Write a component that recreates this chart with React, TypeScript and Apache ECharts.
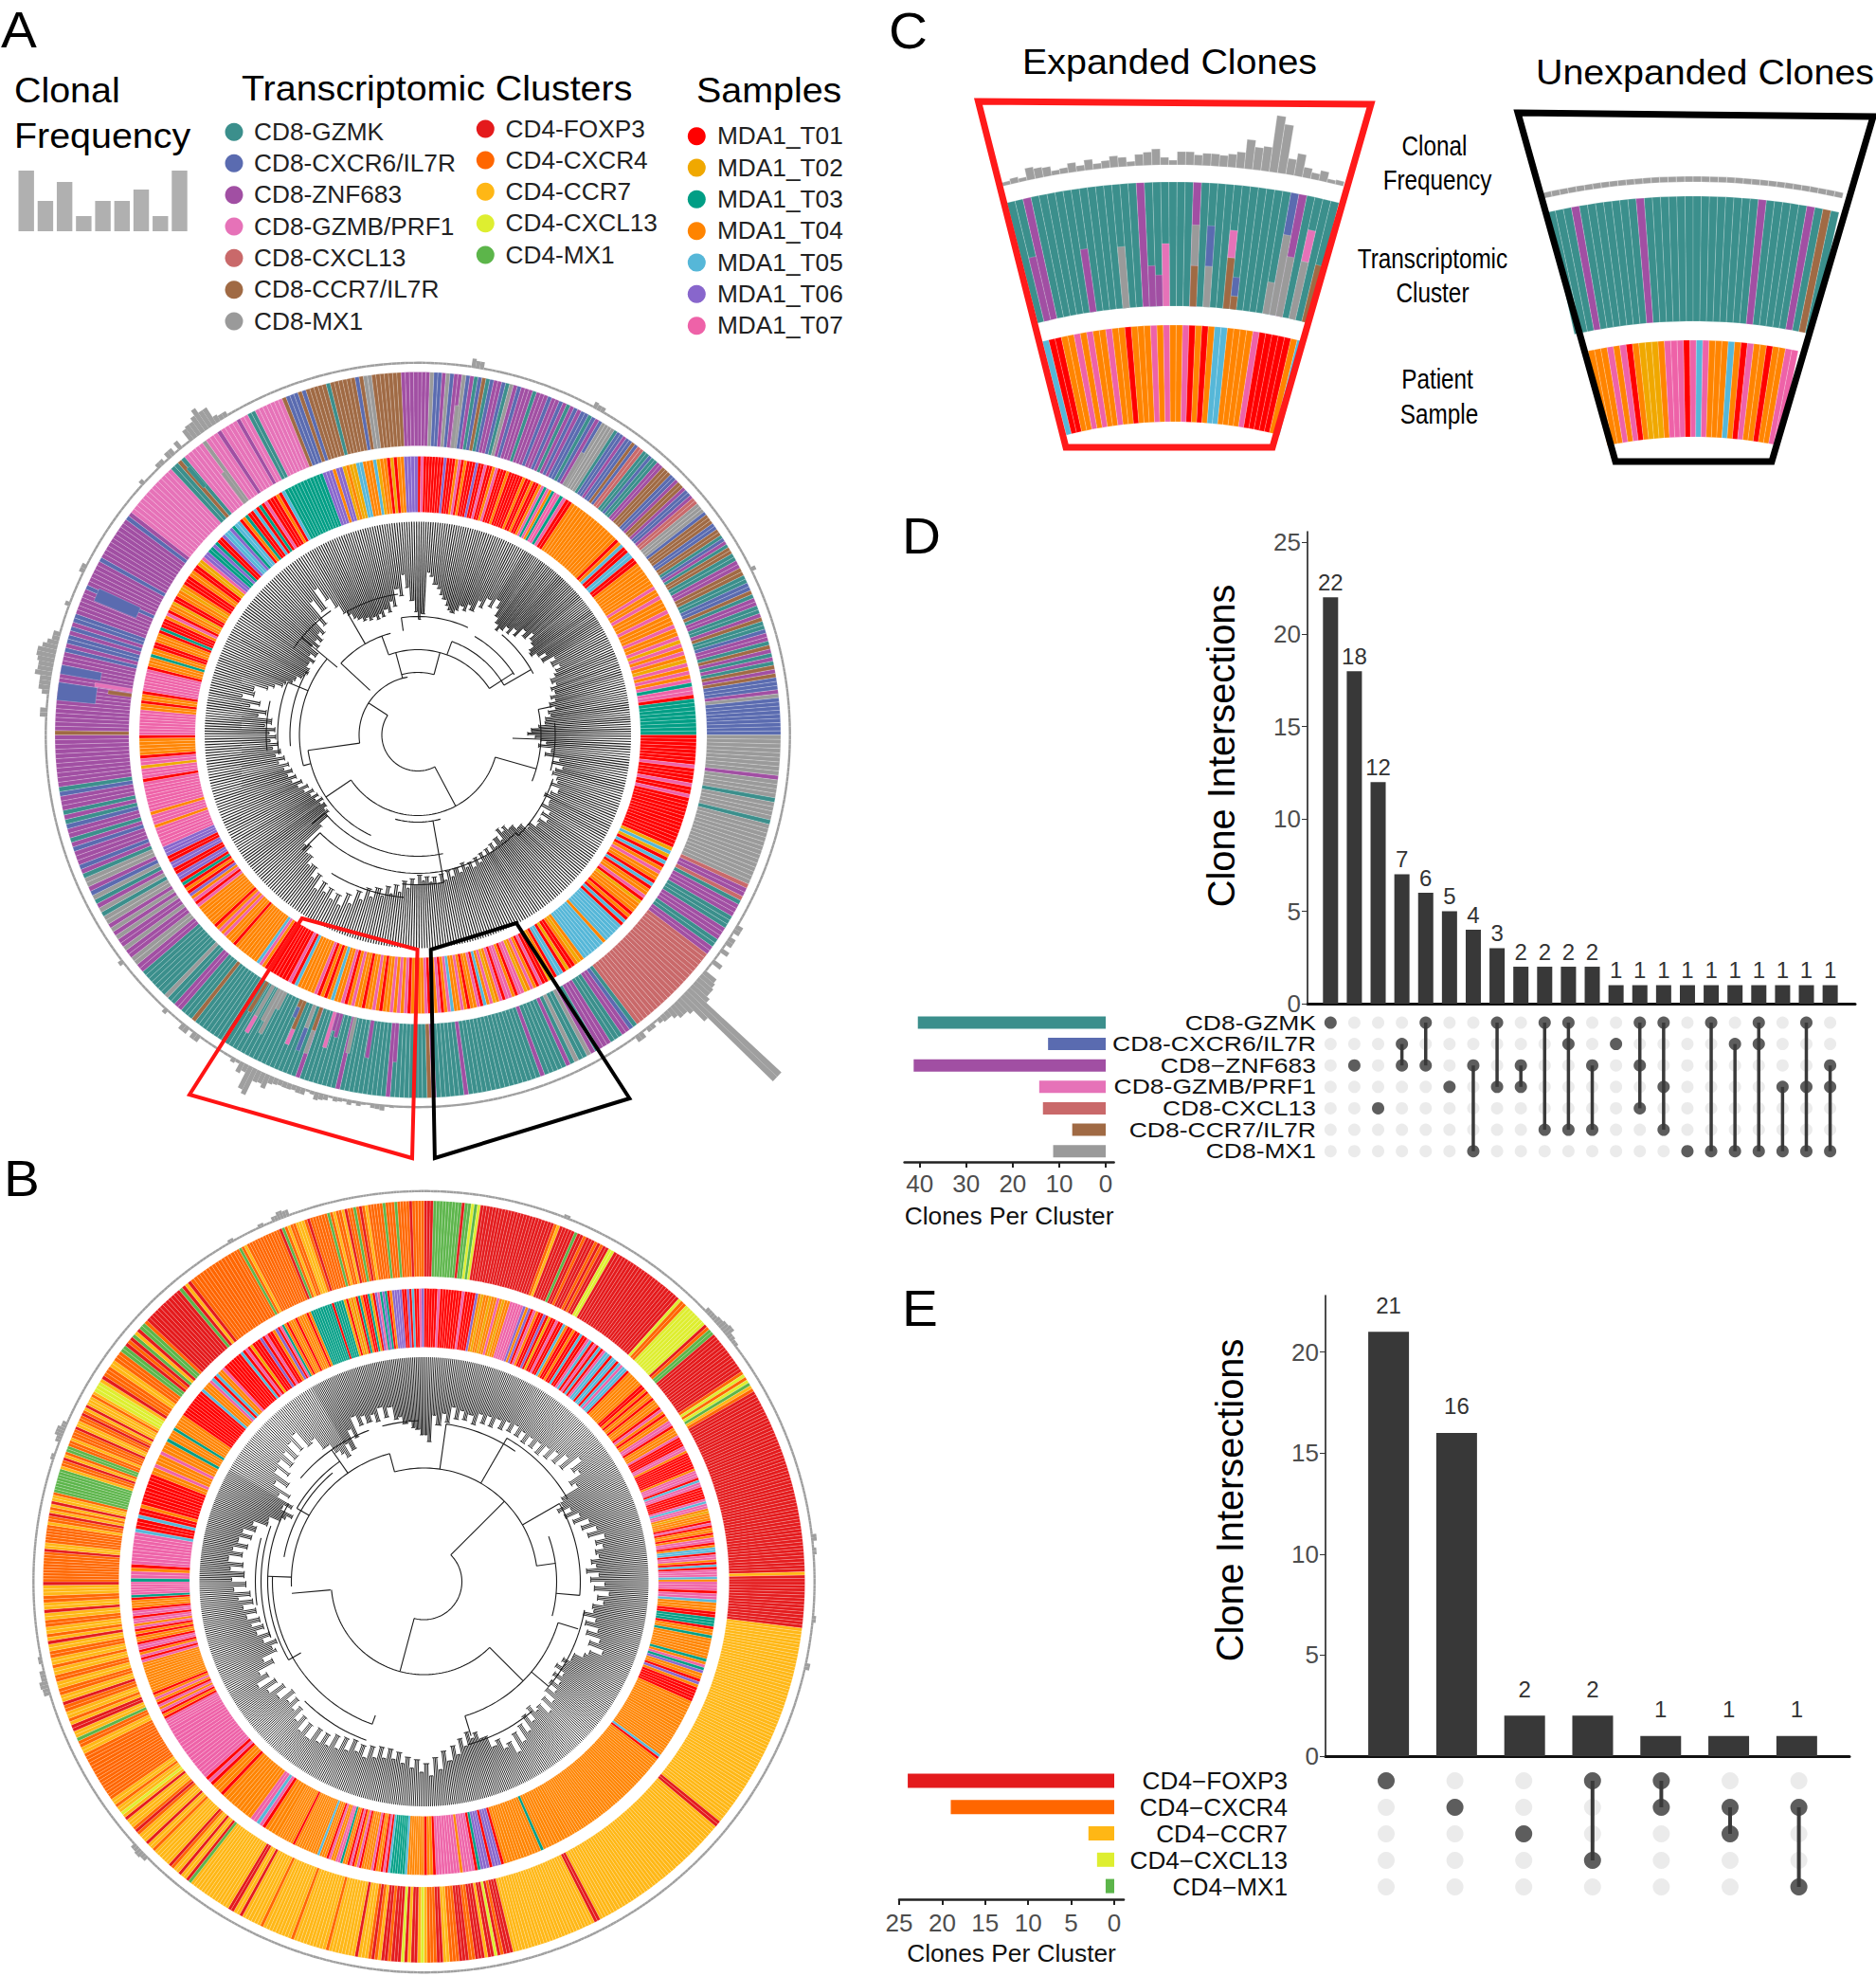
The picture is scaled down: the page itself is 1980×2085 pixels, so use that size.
import React, { useEffect, useRef } from "react";
import * as echarts from "echarts";

const FONT = "Liberation Sans";

/* ---------- palettes ---------- */
const cd8Names = ["CD8-GZMK", "CD8-CXCR6/IL7R", "CD8-ZNF683", "CD8-GZMB/PRF1", "CD8-CXCL13", "CD8-CCR7/IL7R", "CD8-MX1"];
const cd8RowNames = ["CD8-GZMK", "CD8-CXCR6/IL7R", "CD8\u2212ZNF683", "CD8-GZMB/PRF1", "CD8-CXCL13", "CD8-CCR7/IL7R", "CD8-MX1"];
const cd8Colors = ["#3b8f8c", "#5a6bb0", "#a14fa3", "#e672b8", "#c9696a", "#a06a44", "#9a9a9a"];
const cd8Codes = "KBZPLCM";
const cd4Names = ["CD4-FOXP3", "CD4-CXCR4", "CD4-CCR7", "CD4-CXCL13", "CD4-MX1"];
const cd4RowNames = ["CD4\u2212FOXP3", "CD4\u2212CXCR4", "CD4\u2212CCR7", "CD4\u2212CXCL13", "CD4\u2212MX1"];
const cd4Colors = ["#e41a1c", "#ff6600", "#ffb715", "#deee30", "#5cb54a"];
const cd4Codes = "FXRLM";
const sampleNames = ["MDA1_T01", "MDA1_T02", "MDA1_T03", "MDA1_T04", "MDA1_T05", "MDA1_T06", "MDA1_T07"];
const sampleColors = ["#ff0000", "#f0a800", "#009e85", "#ff8400", "#56b7d8", "#8866cc", "#ee62a8"];
const sampleCodes = "abcdefg";

/* ---------- panel A rings: one string per 30 degrees, clockwise from the top ---------- */
const ringAClusters = [
  "Z3 M1 B2 Z1 M1 B1 Z2 M1 B1 Z1 K1 B1 C1 K1 B1 Z2 B1 K1 M1 Z1 B1 Z3 K1 Z3 B1 Z2 B1 Z1 K1 Z1 B1 Z1 B2 K1 B1 Z1",
  "B1 M4 K1 B2 Z1 B2 C1 B1 L2 K2 B1 K2 Z2 C3 B2 Z1 C2 Z1 B2 Z1 L2 M3 B1 C3 B2 C2 K1 B1 Z1 K1 C2",
  "K2 Z2 C2 K2 B2 C1 K1 Z2 K2 Z1 C1 K2 B1 Z2 K1 C1 Z1 K1 Z1 K1 C1 Z1 C1 B3 Z1 M1 B9",
  "M9 Z1 M4 K1 M4 K1 M14 L1 Z2 L1 K1 Z3",
  "K3 Z3 K2 Z2 L22 K1 B1 Z2 K3 Z3",
  "K1 Z1 M1 K2 M1 K1 Z1 K5 Z1 K16 Z1 K6 Z1 C1 K2",
  "K6 Z1 K10 Z1 K8 Z1 K14",
  "K11 C1 K3 Z2 K2 M1 K7 Z2 M2 Z2 M1 Z2 M1 Z1 M1 Z1 M2",
  "K1 M1 Z1 K1 M1 B1 Z1 M2 K1 Z1 B1 Z3 B1 Z1 K1 Z2 B1 K1 Z1 K1 Z3 B1 K1 Z11",
  "C1 Z18 B1 Z1 B2 Z1 B1 Z1 B2 Z6 B1 Z6 B1 Z1",
  "Z9 B1 Z1 P13 K2 C1 K1 P5 M1 P3 Z1 P4",
  "Z1 P2 K2 P7 C1 B3 C1 B1 C5 K1 C6 B1 C1 M2 C7 Z4",
];
const ringASamples = [
  "a1 g1 a7 f1 a3 d1 g1 a1 d1 a3 f1 a2 g1 a2 d1 g1 a3 d1 a5 d1 a2 d1 a2 d1 g1 c1 g1 d1 c1 g1",
  "g1 c1 g1 a2 d16 a1 d1 e1 a2 e2 a2 d8 g1 d2",
  "g1 d3 g1 d3 g1 d2 g1 b1 g1 d1 g1 d1 b1 g1 d1 g1 d1 g1 c1 g2 a1 c9",
  "a8 g1 a4 g1 a2 g1 a14 b1 e1 b1 a1 e1 a1 d1 g1",
  "d2 a1 e1 a1 d2 g1 a1 b1 d3 a1 d1 a1 e1 a1 e6 d1 e7 d1 b1 d1 a2 b1 a1 e2",
  "a1 d1 b1 a2 g1 a1 d1 g1 d1 b1 g2 a1 d1 g2 a1 g1 d1 b1 g1 d1 e1 a1 g1 d2 a1 d1 g1 d2 e1 g1 d1 a1 g1 d2 a1 g1 d2",
  "a1 d1 a1 g1 d1 g1 d1 g1 d2 a1 d1 g1 d2 a1 d2 g1 d1 a1 g1 d2 e1 d1 a1 d1 a1 g1 d5 e1 a1 g1 a3",
  "a5 d1 g1 e1 d8 a1 d3 g1 d1 g1 d1 a1 d7 g1 a1 g1 d1 f1 a1 d1 a1 c1 a1 f2",
  "a2 f2 a2 f3 g6 d1 g3 d1 g9 a1 g3 b1 g2 a1 d5 a1",
  "g8 d2 a1 d2 a1 g7 a1 d3 c1 d2 a2 d3 a1 c1 a3 d1 g1 a1 d2 b1 a2",
  "d2 b1 d1 a3 d2 a2 b2 g1 f2 c2 f1 c1 a2 f1 e2 f1 c1 e2 a1 d1 c1 a2 e1 a1 c1 a1 g1 a3 d1",
  "a1 e1 c12 f3 d1 f2 b1 d1 b2 e2 d3 e1 b1 d2 a1 b1 a1 d2 f4",
];
/* tip radius of the leaves, every 1.5 degrees */
const tipsA = [
  122,128,172,168,160,156,150,146,140,136,134,138,144,140,148,143,156,150,162,155,166,158,150,144,138,142,148,143,152,146,158,152,162,156,154,148,146,152,160,153,166,160,167,161,158,152,156,149,152,146,150,143,148,140,142,136,135,128,120,116,
  124,130,136,128,142,136,152,145,157,150,148,154,156,150,160,153,148,156,157,150,162,155,164,156,158,150,152,144,144,138,138,132,136,130,142,136,144,138,146,140,147,141,150,143,152,145,149,143,152,146,154,147,156,149,158,151,156,150,154,148,
  158,152,162,155,167,160,170,163,174,167,178,170,184,176,192,183,198,188,196,186,193,184,195,180,187,176,179,170,171,163,166,140,128,124,126,122,126,121,128,123,130,125,134,128,138,132,142,136,144,138,146,140,150,143,152,146,154,148,156,150,
  157,151,162,155,170,162,180,170,190,178,180,166,160,152,150,144,142,137,136,133,134,138,138,134,142,136,146,140,147,142,150,146,162,152,180,165,188,172,160,150,146,140,137,133,135,131,133,129,134,130,137,133,144,138,156,148,170,156,142,130,
];
const arcsA = [
  [38, 152, 303], [62, 262, 350], [66, 345, 375], [90, 340, 417], [111, 313, 345], [117, 205, 262], [85, 106, 236], [92, 165, 195], [128, 168, 230], [146, 135, 225], [172, 185, 212],
  [148, 262, 292], [135, 265, 300], [125, 255, 310], [160, 264, 283], [105, 380, 420], [125, 352, 385], [138, 400, 422], [120, 390, 418], [130, 78, 112], [145, 85, 105], [150, 108, 135], [160, 305, 325], [150, 330, 352], [158, 170, 186],
];
const linksA = [
  [152, 38, 85], [303, 38, 62], [262, 62, 117], [345, 62, 90], [15, 66, 90], [313, 69, 111], [340, 90, 111], [236, 85, 117], [57, 90, 120], [106, 85, 130], [170, 92, 128], [230, 128, 146], [135, 146, 150], [225, 146, 172], [292, 125, 148], [20, 90, 105], [60, 105, 138], [352, 111, 125], [92, 100, 130], [78, 130, 145], [255, 117, 125], [310, 111, 160], [170, 128, 158], [330, 111, 150],
];
const peaksA = [
  [8, 2.5], [9, 2], [28, 1.8], [29, 1.5], [63, 1.6], [121, 2], [123, 2], [125, 2.5], [127, 3], [129, 4], [130, 4.5], [131, 5], [132, 6], [133, 33], [134, 9], [135, 5], [136, 4], [137, 3], [138, 2], [139, 1.5], [141, 1.5], [143, 2],
  [216, 2], [218, 2], [222, 1.5], [232, 1.5], [273, 2], [276, 2], [277, 3], [278, 3], [279, 4.5], [280, 4], [281, 4.5], [282, 5], [283, 4], [284, 3], [285, 2], [290, 1.5], [296, 1.5],
  [312, 1.5], [316, 1.5], [318, 2], [320, 2.5], [322, 3.5], [323, 4], [324, 5], [325, 6.5], [326, 5], [327, 2], [328, 1.5],
];
/* [degree, tiles, inner radius, outer radius, code] */
const layersA: [number, number, number, number, string][] = [
  [275.5, 4, 342, 383, "B"], [279.7, 2, 340, 383, "B"], [278.5, 1, 305, 345, "P"], [277.5, 1, 305, 330, "C"], [292.5, 3, 322, 370, "B"], [323, 1, 305, 345, "M"], [30, 1, 305, 345, "M"], [6.5, 1, 305, 350, "M"], [319, 1, 345, 372, "K"],
];

/* ---------- panel B rings ---------- */
const ringBClusters = [
  "F3 M9 F1 M2 L1 M1 L1 F24 X1 R1 F5 M1 F2 X1 F3 X1 F1 X1 F2 L2",
  "F24 L1 X2 L8 F1 X1 M2 F14 X1 L1 X1 L1 M1 R1 X1",
  "F57 R1 F2",
  "F14 R46",
  "R18 F2 R40",
  "R5 F2 R27 F3 X1 F1 L1 F2 R1 F3 X2 F3 X3 R2 F2 X3 R1",
  "L1 R1 F2 R1 F1 L1 F3 X1 F2 R1 X1 F1 X1 R3 F1 R8 X1 R10 X1 R9 X1 R6 F1 R2",
  "F2 R14 M1 F1 R2 F1 R2 X1 F1 R6 X1 R2 F1 R3 X1 F1 X1 R3 F1 R1 L1 R2 X1 R2 X10",
  "X6 R2 X2 M1 R2 F2 R1 X1 R2 X2 F1 R2 X2 R2 X2 R2 X1 R2 X2 R2 F1 R1 X1 R2 X2 R2 F1 R2 X2 R3 F1",
  "X10 F1 R2 X6 R1 X2 F1 R1 X1 R1 F1 R2 X1 M8 R1 X2 F1 R1 X1 M2 X2 R1 X3 F1 R2 X2 F1 X1 R1 F1 R3 X1 R1",
  "L3 R1 F1 X3 R2 X3 M2 F1 X1 F1 M1 R1 F1 M2 X1 F12 M1 F1 R1 F1 X14",
  "X2 M1 X1 R1 X12 F1 M1 X1 R1 X2 R3 X1 F1 X6 M1 X1 R1 X2 R1 F1 X2 M1 X1 F1 X1 R1 X5 M1 X3 M1 X4 F1 X4",
];
const ringBSamples = [
  "a5 g1 a8 g1 a4 f1 d1 b1 d2 b1 d2 g1 d1 b1 d2 g5 f1 d1 f1 a1 g1 d1 a2 f1 a1 b1 a2 g1 a2 e1 d1 a1",
  "a1 d1 a2 e1 a2 g1 e1 a1 g1 a1 e1 a1 g1 e2 a1 e2 a1 e1 g1 e2 a1 d6 a2 d1 a1 d2 a1 d3 a1 g1 d1 a1 d2 g2 a1 d3",
  "g1 a4 g2 d1 a7 d1 g3 a1 e1 g2 a5 g1 e1 g2 d1 b1 d3 a1 g1 a1 d2 a1 d1 g2 a1 d1 e2 a1 g2 d1 a1 e1 a1 g3 e1 d1",
  "g3 a1 g2 e1 d3 a2 c3 a1 d2 c1 d7 c1 d1 g1 c1 f1 d2 a1 f1 d1 a5 d10",
  "d12 e1 a1 d44",
  "d10 c1 d13 a1 f3 a1 f3 c1 a1 g4 d1 g8 a1 d2 a1",
  "d7 e1 c5 c1 e1 a1 g1 a1 d2 a1 g1 d4 a1 g1 d1 a1 g1 a1 d2 c1 g2 d2 g1 a1 d3 e1 d10 a1 d7",
  "d4 a1 g1 e1 g2 d10 a1 d3 a1 g1 a1 g17",
  "g4 a1 d1 a1 g1 d1 g1 a1 d1 g1 d1 a1 d12 g1 a1 g1 d1 a1 g2 a1 d2 a1 d1 a1 g1 d1 g2 a1 g2 a1 d3 a1 c1 g5",
  "c1 g2 d1 a1 g9 e1 a3 e1 a2 d1 a9 d2 g1 d3 g1 d3 c1 d1",
  "d2 c1 d5 a10 e1 d3 g1 e1 a1 e1 d2 g1 a7 e1 a1 g1 a1 b1 a3 f1 a1 g1 a2 d1 f1",
  "a1 g1 c1 d1 a1 d3 a1 d4 a1 d1 c9 a1 c4 b1 a1 b1 d1 b1 a1 c1 d1 a2 c1 b1 a1 f1 g1 c1 f1 c1 a1 d1 f4 a2 f1 a1 e1 a2 g1 f1",
];
const tipsB = [
  155,148,176,166,179,170,187,175,185,176,183,174,187,178,188,178,189,180,191,182,192,182,190,180,190,181,191,180,193,183,196,186,201,188,210,196,201,186,191,170,167,160,173,164,179,170,186,176,191,180,197,186,193,184,187,178,183,172,185,176,
  191,180,196,184,191,180,182,172,186,176,191,180,196,186,203,190,186,176,176,168,173,165,177,168,179,170,181,172,186,176,191,178,181,172,187,176,193,182,199,186,206,192,196,184,189,176,176,168,173,165,179,170,186,176,191,180,199,186,205,192,
  201,188,197,186,193,182,190,180,191,180,193,182,196,184,193,182,196,184,199,186,201,190,203,190,206,192,205,190,199,186,193,182,191,180,196,184,201,188,207,192,199,180,189,172,175,168,181,172,185,176,188,178,191,180,193,182,197,184,201,188,
  203,190,205,192,208,194,205,190,201,188,199,186,191,176,177,165,161,155,169,160,179,168,189,176,196,182,199,186,201,188,204,190,208,188,191,176,176,165,160,154,167,158,179,168,190,178,187,178,185,176,190,178,188,174,176,168,171,163,161,155,
];
const arcsB = [
  [40, 45, 195], [98, 135, 265], [148, 107, 163], [140, 268, 345], [120, 345, 442], [140, 70, 105], [160, 200, 272], [165, 240, 300], [172, 250, 290], [178, 262, 285], [155, 300, 325], [150, 280, 320],
  [165, 60, 95], [172, 100, 130], [175, 30, 60], [168, 8, 35], [178, 140, 165], [170, 310, 340], [178, 200, 225], [170, 345, 358],
];
const linksB = [
  [45, 40, 120], [195, 40, 98], [265, 99, 140], [135, 98, 148], [163, 148, 170], [107, 148, 170], [200, 150, 160], [272, 140, 165], [300, 140, 155], [325, 140, 170], [345, 120, 140], [82, 120, 140], [8, 120, 168], [60, 120, 165], [95, 140, 165], [130, 148, 172], [30, 120, 175], [240, 150, 165],
];
const peaksB = [
  [21, 1.5], [46, 2], [47, 2], [48, 2.5], [49, 3], [50, 3.5], [51, 2], [52, 1.5], [83, 2], [85, 1.5], [95, 1.5], [102, 2], [225, 2], [226, 2.5], [227, 2], [253, 2.5], [254, 3], [255, 2], [256, 2], [258, 1.5], [288, 1.5], [291, 2], [292, 3], [293, 2], [330, 1.5], [335, 1.5], [337, 2], [338, 3], [339, 2.5],
];

/* ---------- panel C ---------- */
const expandedClusters = "K2 Z1 K13 Z1 K6 Z1 K11 B1 Z1 K4";
const expandedSamples = "e1 a2 d2 g1 d1 g1 d2 g1 d2 a1 d3 g1 d1 g1 d2 g1 a1 d1 a1 d1 e2 d4 g1 a5 d1 e1";
const expandedFrequency = [4, 6, 4, 13, 11, 10, 5, 6, 10, 6, 11, 6, 8, 12, 10, 5, 12, 14, 17, 8, 5, 14, 14, 11, 13, 13, 12, 14, 17, 31, 24, 26, 60, 52, 17, 24, 11, 7, 11, 4, 5];
/* [tile, inner radius, outer radius, code] */
const expandedLayers: [number, number, number, string][] = [
  [1, 576, 645, "Z"], [8, 576, 643, "Z"], [13, 576, 641, "M"], [17, 576, 619, "Z"], [18, 576, 609, "Z"], [19, 576, 642, "P"],
  [23, 619, 662, "M"], [23, 576, 619, "C"], [25, 619, 662, "B"], [25, 576, 619, "M"], [28, 630, 659, "P"], [28, 576, 630, "C"], [29, 590, 610, "B"], [29, 576, 590, "C"],
  [35, 576, 662, "M"], [36, 576, 640, "M"], [34, 576, 610, "M"], [38, 638, 672, "P"], [38, 576, 638, "M"], [40, 576, 638, "C"],
];
const unexpandedClusters = "K3 Z1 K7 Z1 K14 Z1 K5 Z1 K1 C1 K1";
const unexpandedSamples = "d3 g1 d1 g1 a1 d1 b3 d1 g3 a1 g1 e1 g1 d3 e1 d1 a1 g1 d2 a1 d2 g2";
const unexpandedFrequency = [1, 1, 1, 1, 1, 1, 1, 1, 1, 1, 1, 1, 1, 1, 1, 1, 1, 1, 1, 1, 1, 1, 1, 1, 1, 1, 1, 1, 1, 1, 1, 1, 1, 1, 1, 1];

/* ---------- panel D, E ---------- */
const legendBars = [4, 2, 3.25, 1, 2, 2, 2.75, 1, 4];
const dIntersections = [22, 18, 12, 7, 6, 5, 4, 3, 2, 2, 2, 2, 1, 1, 1, 1, 1, 1, 1, 1, 1, 1];
const dClones = [40.4, 12.4, 41.3, 14.3, 13.5, 7.2, 11.3];
const dSets = [[0], [2], [4], [1, 2], [0, 2], [3], [2, 6], [0, 3], [2, 3], [0, 5], [0, 1, 5], [2, 5], [1], [0, 2, 4], [0, 3, 5], [6], [0, 6], [1, 6], [0, 1, 6], [3, 6], [0, 3, 6], [2, 3, 6]];
const eIntersections = [21, 16, 2, 2, 1, 1, 1];
const eClones = [24, 19, 3, 2, 1];
const eSets = [[0], [1], [2], [0, 3], [0, 1], [1, 2], [1, 4]];

/* ---------- helpers ---------- */
function tokens(s: string): [string, number][] {
  const out: [string, number][] = [];
  s.replace(/([A-Za-z])(\d+)/g, (_m, c, n) => { out.push([c, +n]); return ""; });
  return out;
}
// data rows: [r0, a0, r1, a1, colorIndex]
function ringTiles(blocks: string[], codes: string, r0: number, r1: number) {
  const rows: number[][] = [];
  blocks.forEach((b, i) => {
    const t = tokens(b);
    const total = t.reduce((s, x) => s + x[1], 0);
    const w = 30 / total;
    let a = i * 30;
    t.forEach(([c, n]) => {
      for (let k = 0; k < n; k++) { rows.push([r0, a, r1, a + w, codes.indexOf(c)]); a += w; }
    });
  });
  return rows;
}
function wedgeTiles(s: string, codes: string, r0: number, r1: number, step: number, offset = 0) {
  const rows: number[][] = [];
  let i = offset;
  tokens(s).forEach(([c, n]) => { for (let k = 0; k < n; k++) { rows.push([r0, i * step, r1, (i + 1) * step, codes.indexOf(c)]); i++; } });
  return rows;
}
function tileSeries(polarIndex: number, data: number[][], colors: string[], stroke: string | null = "rgba(255,255,255,0.38)", z = 2) {
  return {
    type: "custom", coordinateSystem: "polar", polarIndex, silent: true, z, progressive: 0, animation: false, clip: false,
    data,
    renderItem: (_p: any, api: any) => {
      const r0 = api.value(0), a0 = api.value(1), r1 = api.value(2), a1 = api.value(3);
      const pts = [api.coord([r0, a0]), api.coord([r1, a0]), api.coord([r1, a1]), api.coord([r0, a1])];
      return { type: "polygon", shape: { points: pts }, style: stroke ? { fill: colors[api.value(4)], stroke, lineWidth: 0.5 } : { fill: colors[api.value(4)] } };
    },
  };
}
// data rows: [r, a0, a1]
function arcSeries(polarIndex: number, data: number[][], lineWidth: number) {
  return {
    type: "custom", coordinateSystem: "polar", polarIndex, silent: true, z: 3, progressive: 0, clip: false,
    data,
    renderItem: (_p: any, api: any) => {
      const r = api.value(0), a0 = api.value(1), a1 = api.value(2);
      const pts: number[][] = [];
      for (let a = a0; a < a1; a += 2) pts.push(api.coord([r, a]));
      pts.push(api.coord([r, a1]));
      return { type: "polyline", shape: { points: pts }, style: { stroke: "#1c1c1c", lineWidth, fill: "none" } };
    },
  };
}
// data rows: [r0, a, r1]
function radialSeries(polarIndex: number, data: number[][], lineWidth: number, stroke = "#1c1c1c") {
  return {
    type: "custom", coordinateSystem: "polar", polarIndex, silent: true, z: 3, progressive: 0, clip: false,
    data,
    renderItem: (_p: any, api: any) => {
      const a = api.value(1);
      const p0 = api.coord([api.value(0), a]);
      const p1 = api.coord([api.value(2), a]);
      return { type: "line", shape: { x1: p0[0], y1: p0[1], x2: p1[0], y2: p1[1] }, style: { stroke, lineWidth } };
    },
  };
}
function frequencyRows(outer: number[][], base: number, unit: number, floor: number, peaks: number[][], extra: (a: number) => number = () => 0) {
  const m = new Map(peaks.map((p) => [p[0], p[1]]));
  return outer.map((t) => {
    const mid = (t[1] + t[3]) / 2;
    const v = Math.max(floor, m.get(Math.floor(mid)) || 0, extra(mid));
    return [base, t[1], base + v * unit, t[3], 0];
  });
}
function circleSeries(i: number, clusterBlocks: string[], clusterCodes: string, clusterColors: string[], sampleBlocks: string[], geo: any, tips: number[], arcs: number[][], links: number[][], peaks: number[][], unit: number, extra?: (a: number) => number, layers: any[] = []) {
  const outer = ringTiles(clusterBlocks, clusterCodes, geo.oi, geo.oo);
  const middle = ringTiles(sampleBlocks, sampleCodes, geo.mi, geo.mo);
  const leafTip = (a: number) => tips[Math.floor((((a % 360) + 360) % 360) / 1.5)];
  const leaves = outer.map((t) => { const a = (t[1] + t[3]) / 2; return [leafTip(a), a, geo.d]; });
  const steps: number[][] = [];
  leaves.forEach((l, k) => {
    if (k < leaves.length - 1) { const n = leaves[k + 1]; steps.push([Math.min(l[0], n[0]), l[1], n[1]]); }
  });
  const layerRows = layers.map((l) => [l[2], l[0], l[3], l[0] + l[1] * 0.72, clusterCodes.indexOf(l[4])]);
  return [
    tileSeries(i, outer, clusterColors),
    tileSeries(i, layerRows, clusterColors, "rgba(255,255,255,0.38)", 3),
    tileSeries(i, middle, sampleColors),
    tileSeries(i, frequencyRows(outer, geo.f, unit, geo.floor, peaks, extra), ["#9f9f9f"], null),
    radialSeries(i, leaves, geo.lw, "#1e1e1e"),
    arcSeries(i, steps, 0.9),
    arcSeries(i, arcs, 1.1),
    radialSeries(i, links.map((l) => [l[1], l[0], l[2]]), 1.1),
  ];
}
const polarOf = (center: number[], radius: number) => ({ center, radius });
const angleOf = (polarIndex: number, startAngle: number) => ({ polarIndex, type: "value", min: 0, max: 360, startAngle, show: false });
const radiusOf = (polarIndex: number, max: number) => ({ polarIndex, type: "value", min: 0, max, show: false });

const txt = (text: string, x: number, y: number, size: number, o: any = {}) => ({
  type: "text", x, y, z: 100, rotation: o.rotation || 0, scaleX: o.sx || 1, silent: true,
  style: {
    text, x: 0, y: 0, fill: o.fill || "#000", font: `${size}px "${FONT}"`, fontSize: size, fontFamily: FONT,
    textAlign: o.align || "left", align: o.align || "left", textVerticalAlign: "middle", verticalAlign: "middle",
  },
});
const title = (text: string, x: number, y: number) => txt(text, x, y, 37, { sx: 1.065 });
const letter = (text: string, x: number, y: number) => txt(text, x, y, 54, { sx: 1.05 });
const legendText = (text: string, x: number, y: number) => txt(text, x, y, 25, { sx: 1.05, fill: "#222" });
const dot = (x: number, y: number, r: number, fill: string) => ({ type: "circle", z: 100, silent: true, shape: { cx: x, cy: y, r }, style: { fill } });
const frame = (pts: number[][], stroke: string, lineWidth: number) => ({ type: "polygon", z: 100, silent: true, shape: { points: pts }, style: { fill: "none", stroke, lineWidth, lineJoin: "miter" } });

function upset(gridStart: number, cfg: any) {
  const { sets, inter, clones, names, colors, top, left, matrix, dotSize, linkW, barW, labelDist, labelSize, leftTicks, leftMin, leftMax, topTicks } = cfg;
  const rows = names.length, cols = inter.length;
  const grids = [
    { left: top.left, top: top.top, width: top.width, height: top.height },
    { left: left.left, top: left.top, width: left.width, height: left.height },
    { left: matrix.left, top: matrix.top, width: matrix.width, height: matrix.height },
  ];
  const tickStyle = { color: "#4d4d4d", fontSize: cfg.tickSize, fontFamily: FONT };
  const xAxes = [
    { gridIndex: gridStart, type: "value", min: top.min, max: top.max, axisLabel: { show: false }, axisTick: { show: false }, splitLine: { show: false }, axisLine: { show: true, onZero: false, lineStyle: { color: "#111", width: 3 } } },
    {
      gridIndex: gridStart + 1, type: "value", inverse: true, min: leftMin, max: leftMax, splitLine: { show: false },
      axisLine: { show: true, onZero: false, lineStyle: { color: "#222", width: 2.5 } },
      axisTick: { show: true, customValues: leftTicks, length: 6, lineStyle: { color: "#222", width: 2 } },
      axisLabel: { show: true, customValues: leftTicks, margin: cfg.leftMargin, hideOverlap: false, showMinLabel: true, showMaxLabel: true, ...tickStyle },
      name: "Clones Per Cluster", nameLocation: "middle", nameGap: 44, nameTextStyle: { color: "#111", fontSize: 26.3, fontFamily: FONT },
    },
    { gridIndex: gridStart + 2, type: "value", min: -0.5, max: cols - 0.5, show: false },
  ];
  const yAxes = [
    {
      gridIndex: gridStart, type: "value", min: 0, max: top.yMax, splitLine: { show: false },
      axisLine: { show: true, onZero: false, lineStyle: { color: "#111", width: 1.5 } },
      axisTick: { show: true, customValues: topTicks, length: 6, lineStyle: { color: "#333" } },
      axisLabel: { margin: 7, customValues: topTicks, ...tickStyle },
    },
    { gridIndex: gridStart + 1, type: "category", inverse: true, data: names, show: false },
    { gridIndex: gridStart + 2, type: "category", inverse: true, data: names, show: false },
  ];
  const bg: number[][] = [];
  const fg: number[][] = [];
  const links: number[][] = [];
  for (let c = 0; c < cols; c++) {
    for (let r = 0; r < rows; r++) bg.push([c, r]);
    sets[c].forEach((r: number) => fg.push([c, r]));
    if (sets[c].length > 1) links.push([c, Math.min(...sets[c]), Math.max(...sets[c])]);
  }
  const series = [
    {
      type: "bar", xAxisIndex: gridStart, yAxisIndex: gridStart, barWidth: barW, silent: true,
      data: inter.map((v: number, i: number) => [i, v]), itemStyle: { color: "#383838" },
      label: { show: true, position: "top", distance: labelDist, color: "#333", fontSize: labelSize, fontFamily: FONT, formatter: (p: any) => String(p.value[1]) },
    },
    {
      type: "bar", xAxisIndex: gridStart + 1, yAxisIndex: gridStart + 1, barWidth: cfg.leftBarH, silent: true,
      data: clones.map((v: number, i: number) => ({ value: v, itemStyle: { color: colors[i] } })),
    },
    { type: "scatter", xAxisIndex: gridStart + 2, yAxisIndex: gridStart + 2, symbol: "circle", symbolSize: dotSize, silent: true, z: 2, data: bg, itemStyle: { color: "#e6e6e6" } },
    {
      type: "custom", xAxisIndex: gridStart + 2, yAxisIndex: gridStart + 2, coordinateSystem: "cartesian2d", silent: true, z: 3, data: links,
      renderItem: (_p: any, api: any) => {
        const a = api.coord([api.value(0), api.value(1)]);
        const b = api.coord([api.value(0), api.value(2)]);
        return { type: "line", shape: { x1: a[0], y1: a[1], x2: b[0], y2: b[1] }, style: { stroke: "#3a3a3a", lineWidth: linkW } };
      },
      encode: { x: 0, y: [1, 2] },
    },
    { type: "scatter", xAxisIndex: gridStart + 2, yAxisIndex: gridStart + 2, symbol: "circle", symbolSize: dotSize, silent: true, z: 4, data: fg, itemStyle: { color: "#3a3a3a" } },
  ];
  return { grids, xAxes, yAxes, series };
}

function buildOption() {
  const geoA = { d: 225, mi: 235, mo: 294, oi: 305, oo: 383, f: 391.5, lw: 1.15, floor: 0.6 };
  const geoB = { d: 237, mi: 247.4, mo: 309.4, oi: 322, oo: 402, f: 411, lw: 0.95, floor: 0.8 };
  const expandedStep = 0.7;
  const expandedStart = 90 + 14.35;
  const unexpandedStart = 90 + 12.6;

  // panel A's red wedge shows the same clones as panel C
  const wedgeOrigin = 183;
  const extraA = (a: number) => {
    const i = Math.floor((a - wedgeOrigin) / expandedStep);
    return i >= 0 && i < expandedFrequency.length ? expandedFrequency[i] / 8 : 0;
  };
  const wedgeLayersA = expandedLayers.map((l) => [
    wedgeOrigin + l[0] * expandedStep, 1,
    305 + ((l[1] - 576) / 131) * 78, 305 + ((l[2] - 576) / 131) * 78, l[3],
  ]);

  const seriesA = circleSeries(0, ringAClusters, cd8Codes, cd8Colors, ringASamples, geoA, tipsA, arcsA, linksA, peaksA, 4, extraA, [...layersA, ...wedgeLayersA]);
  const seriesB = circleSeries(1, ringBClusters, cd4Codes, cd4Colors, ringBSamples, geoB, tipsB, arcsB, linksB, peaksB, 3);

  const layerRowsC = expandedLayers.map((l) => [l[1], l[0] * expandedStep, l[2], (l[0] + 1) * expandedStep, cd8Codes.indexOf(l[3])]);
  const seriesC = [
    tileSeries(2, wedgeTiles(expandedClusters, cd8Codes, 576, 707, expandedStep), cd8Colors),
    tileSeries(2, layerRowsC, cd8Colors, "rgba(255,255,255,0.38)", 3),
    tileSeries(2, wedgeTiles(expandedSamples, sampleCodes, 454, 556, expandedStep), sampleColors),
    tileSeries(2, expandedFrequency.map((v, i) => [725, i * expandedStep, 725 + v, (i + 1) * expandedStep, 0]), ["#9f9f9f"], "rgba(255,255,255,0.5)"),
    tileSeries(3, wedgeTiles(unexpandedClusters, cd8Codes, 574, 706, 0.7), cd8Colors),
    tileSeries(3, wedgeTiles(unexpandedSamples, sampleCodes, 452, 554, 0.7, 1.5), sampleColors),
    tileSeries(3, unexpandedFrequency.map((v, i) => [721, i * 0.7, 721 + v * 6, (i + 1) * 0.7, 0]), ["#9f9f9f"], "rgba(255,255,255,0.6)"),
  ];

  const D = upset(1, {
    sets: dSets, inter: dIntersections, clones: dClones, names: cd8RowNames, colors: cd8Colors,
    top: { left: 1380, top: 561, width: 578, height: 498, min: -0.968, max: 22.05, yMax: 25.56 },
    left: { left: 954.6, top: 1067.7, width: 221, height: 158.3 },
    matrix: { left: 1391.75, top: 1067.7, width: 552.4, height: 158.3 },
    dotSize: 13, linkW: 3.5, barW: 16, labelDist: 4, labelSize: 24, tickSize: 26, leftBarH: 13, leftMargin: 10,
    topTicks: [0, 5, 10, 15, 20, 25], leftTicks: [0, 10, 20, 30, 40], leftMin: -1.75, leftMax: 43.28,
  });
  const E = upset(4, {
    sets: eSets, inter: eIntersections, clones: eClones, names: cd4RowNames, colors: cd4Colors,
    top: { left: 1399, top: 1367, width: 553, height: 486, min: -0.9276, max: 6.775, yMax: 22.8 },
    left: { left: 949, top: 1865, width: 237, height: 139 },
    matrix: { left: 1426.7, top: 1865, width: 508.2, height: 140 },
    dotSize: 18, linkW: 4, barW: 43, labelDist: 16, labelSize: 24, tickSize: 26, leftBarH: 15, leftMargin: 12,
    topTicks: [0, 5, 10, 15, 20], leftTicks: [0, 5, 10, 15, 20, 25], leftMin: -1.1, leftMax: 25,
  });

  const graphics: any[] = [
    letter("A", 1, 31), letter("B", 4, 1243), letter("C", 938, 32), letter("D", 952, 565), letter("E", 952, 1380),
    title("Clonal", 15, 95), title("Frequency", 15, 143),
    title("Transcriptomic Clusters", 255, 93), title("Samples", 735, 95),
    title("Expanded Clones", 1079, 65), title("Unexpanded Clones", 1621, 76),
    txt("Clonal", 1514, 154, 30, { align: "center", sx: 0.81 }), txt("Frequency", 1517, 190, 30, { align: "center", sx: 0.81 }),
    txt("Transcriptomic", 1512, 273, 30, { align: "center", sx: 0.81 }), txt("Cluster", 1512, 309, 30, { align: "center", sx: 0.81 }),
    txt("Patient", 1517, 400, 30, { align: "center", sx: 0.81 }), txt("Sample", 1519, 437, 30, { align: "center", sx: 0.81 }),
    txt("Clone Intersections", 1289, 787, 39.8, { align: "center", rotation: Math.PI / 2 }),
    txt("Clone Intersections", 1298, 1583, 39.8, { align: "center", rotation: Math.PI / 2 }),
    frame([[318.7, 969], [440.6, 1002], [435, 1222], [200, 1155]], "#ff1414", 4),
    frame([[545, 974], [454.7, 1002], [458.9, 1222], [664.4, 1159]], "#000", 4),
    frame([[1032.5, 107], [1447, 110], [1343, 472], [1125, 472]], "#ff1a1a", 7),
    frame([[1602, 119], [1977, 123], [1870, 487], [1705, 487]], "#000", 7),
  ];
  const col1Y = [139.3, 172.3, 205.7, 239, 272.3, 305.7, 339];
  cd8Names.forEach((n, i) => { graphics.push(dot(247, col1Y[i], 9.5, cd8Colors[i]), legendText(n, 268, col1Y[i])); });
  const col2Y = [136, 169, 202.3, 235.7, 269];
  cd4Names.forEach((n, i) => { graphics.push(dot(512.3, col2Y[i], 9.5, cd4Colors[i]), legendText(n, 533.5, col2Y[i])); });
  const col3Y = [143.7, 177, 210.3, 243.7, 277, 310.3, 343.7];
  sampleNames.forEach((n, i) => { graphics.push(dot(735.3, col3Y[i], 9.5, sampleColors[i]), legendText(n, 757, col3Y[i])); });
  cd8RowNames.forEach((n, i) => graphics.push(txt(n, 1389, 1079 + i * 22.6, 22, { align: "right", sx: 1.205, fill: "#111" })));
  cd4RowNames.forEach((n, i) => graphics.push(txt(n, 1359, 1879 + i * 28, 25, { align: "right", sx: 1.047, fill: "#111" })));

  return {
    animation: false,
    backgroundColor: "#fff",
    textStyle: { fontFamily: FONT },
    polar: [polarOf([441, 775.5], 540), polarOf([447.5, 1669], 430), polarOf([1238, 899], 790), polarOf([1787, 913], 740)],
    angleAxis: [angleOf(0, 90), angleOf(1, 90), angleOf(2, expandedStart), angleOf(3, unexpandedStart)],
    radiusAxis: [radiusOf(0, 540), radiusOf(1, 430), radiusOf(2, 790), radiusOf(3, 740)],
    grid: [{ left: 17.6, top: 180, width: 182, height: 64 }, ...D.grids, ...E.grids],
    xAxis: [{ gridIndex: 0, type: "category", data: legendBars.map((_, i) => String(i)), show: false }, ...D.xAxes, ...E.xAxes],
    yAxis: [{ gridIndex: 0, type: "value", min: 0, max: 4, show: false }, ...D.yAxes, ...E.yAxes],
    series: [
      { type: "bar", xAxisIndex: 0, yAxisIndex: 0, barWidth: 16.4, silent: true, data: legendBars, itemStyle: { color: "#b0b0b0" } },
      ...seriesA, ...seriesB, ...seriesC, ...D.series, ...E.series,
    ],
    graphic: { elements: graphics },
  };
}

export default function App() {
  const ref = useRef<HTMLDivElement>(null);
  useEffect(() => {
    const chart = echarts.init(ref.current!, undefined, { renderer: "svg" });
    chart.setOption(buildOption() as any);
    return () => chart.dispose();
  }, []);
  return <div ref={ref} style={{ position: "absolute", left: 0, top: 0, width: 1980, height: 2085, background: "#fff" }} />;
}
